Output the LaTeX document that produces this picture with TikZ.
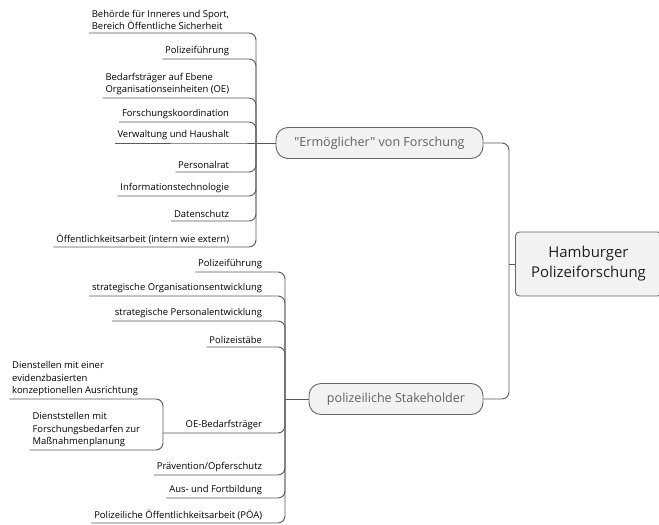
\documentclass[tikz,border=0pt]{standalone}
\usepackage{fontspec}
\setmainfont{Open Sans}[Ligatures=TeXOff]
\begin{document}
\begin{tikzpicture}[x=1bp, y=-1bp, line width=0.9bp,
  kante/.style={draw=black!65, rounded corners=7bp},
  blatt/.style={anchor=south east, inner xsep=2.5bp, inner ysep=2.5bp, align=left, font=\fontsize{9.5}{12.5}\selectfont},
  ast/.style={draw=black!60, fill=black!5, rounded corners=12bp, minimum height=31bp, text=black!62, font=\fontsize{12.6}{14}\selectfont},
  wurzel/.style={draw=black!60, fill=black!5, rounded corners=4bp, minimum height=64bp, minimum width=146bp, align=center, text=black!88, font=\fontsize{15}{20}\selectfont}]
\useasboundingbox (0,0) rectangle (659,525);
% Wurzel und Hauptaeste
\node[wurzel, anchor=west] (H) at (515,264) {Hamburger\\Polizeiforschung};
\node[ast, minimum width=207bp] (E) at (379.5,143) {"Ermöglicher" von Forschung};
\node[ast, minimum width=174bp] (S) at (396,399) {polizeiliche Stakeholder};
\path (H.west) ++(-6,0) coordinate (HJ);
\draw[kante] (H.west) -- (HJ);
\draw[kante] (HJ) |- (E.east);
\draw[kante] (HJ) |- (S.east);
% "Ermoeglicher" von Forschung
\coordinate (EJ) at (256,143);
\draw[kante] (E.west) -- (EJ);
\node[blatt] (A1) at (232,33) {Behörde für Inneres und Sport,\\Bereich Öffentliche Sicherheit};
\draw[kante] (EJ) |- (A1.south east) -- (A1.south west);
\node[blatt] (A2) at (232,59) {Polizeiführung};
\draw[kante] (EJ) |- (A2.south east) -- (A2.south west);
\node[blatt] (A3) at (232,98) {Bedarfsträger auf Ebene\\Organisationseinheiten (OE)};
\draw[kante] (EJ) |- (A3.south east) -- (A3.south west);
\node[blatt] (A4) at (232,122) {Forschungskoordination};
\draw[kante] (EJ) |- (A4.south east) -- (A4.south west);
\node[blatt] (A5) at (232,143) {Verwaltung und Haushalt};
\draw[kante] (EJ) -- (A5.south east) -- (A5.south west);
\node[blatt] (A6) at (232,172) {Personalrat};
\draw[kante] (EJ) |- (A6.south east) -- (A6.south west);
\node[blatt] (A7) at (232,196) {Informationstechnologie};
\draw[kante] (EJ) |- (A7.south east) -- (A7.south west);
\node[blatt] (A8) at (232,221) {Datenschutz};
\draw[kante] (EJ) |- (A8.south east) -- (A8.south west);
\node[blatt] (A9) at (232,247) {Öffentlichkeitsarbeit (intern wie extern)};
\draw[kante] (EJ) |- (A9.south east) -- (A9.south west);
% polizeiliche Stakeholder
\coordinate (SJ) at (285,399);
\draw[kante] (S.west) -- (SJ);
\node[blatt] (B1) at (265,272) {Polizeiführung};
\draw[kante] (SJ) |- (B1.south east) -- (B1.south west);
\node[blatt] (B2) at (265,296) {strategische Organisationsentwicklung};
\draw[kante] (SJ) |- (B2.south east) -- (B2.south west);
\node[blatt] (B3) at (265,321) {strategische Personalentwicklung};
\draw[kante] (SJ) |- (B3.south east) -- (B3.south west);
\node[blatt] (B4) at (265,347) {Polizeistäbe};
\draw[kante] (SJ) |- (B4.south east) -- (B4.south west);
\node[blatt] (B5) at (265,433) {OE-Bedarfsträger};
\coordinate (OJ) at (163,433);
\draw[kante] (SJ) |- (B5.south east) -- (OJ);
\node[blatt] (C1) at (141,399) {Dienstellen mit einer\\evidenzbasierten\\konzeptionellen Ausrichtung};
\draw[kante] (OJ) |- (C1.south east) -- (C1.south west);
\node[blatt] (C2) at (143,450) {Dienststellen mit\\Forschungsbedarfen zur\\Maßnahmenplanung};
\draw[kante] (OJ) |- (C2.south east) -- (C2.south west);
\node[blatt] (B6) at (265,475) {Prävention/Opferschutz};
\draw[kante] (SJ) |- (B6.south east) -- (B6.south west);
\node[blatt] (B7) at (265,498) {Aus- und Fortbildung};
\draw[kante] (SJ) |- (B7.south east) -- (B7.south west);
\node[blatt] (B8) at (265,523) {Polizeiliche Öffentlichkeitsarbeit (PÖA)};
\draw[kante] (SJ) |- (B8.south east) -- (B8.south west);
\end{tikzpicture}
\end{document}
